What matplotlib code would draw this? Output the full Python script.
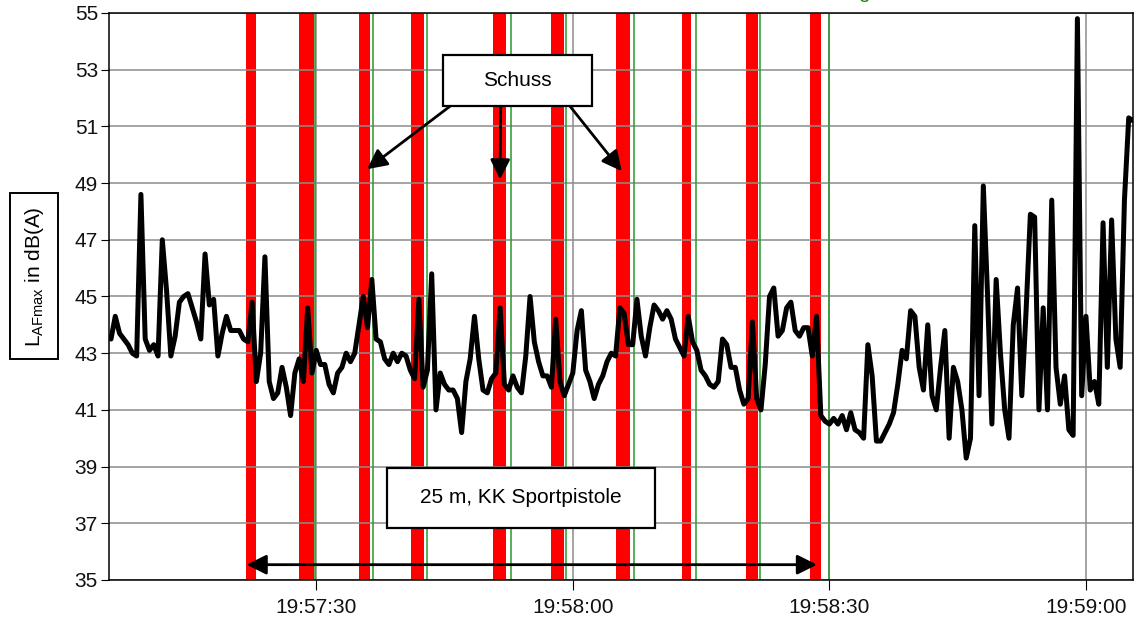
"""
LAFmax time history during 25 m KK Sportpistole shooting, shots marked red.
"""

import numpy as np
import matplotlib
matplotlib.use("Agg")
import matplotlib.pyplot as plt
from matplotlib.patches import Rectangle

plt.rcParams.update({
    "font.family": ["Liberation Sans", "DejaVu Sans"],
    "font.size": 15,
    "mathtext.fontset": "custom",
    "mathtext.rm": "Liberation Sans",
})

# Level samples, seconds after 19:57:00, 0.5 s spacing starting at 6.0 s
t_start = 6.0
t_step = 0.5
level = [
    43.5, 44.3, 43.7, 43.5, 43.3, 43.0, 42.9, 48.6, 43.5, 43.1,
    43.3, 42.9, 47.0, 45.2, 42.9, 43.6, 44.8, 45.0, 45.1, 44.6,
    44.1, 43.5, 46.5, 44.7, 44.9, 42.9, 43.7, 44.3, 43.8, 43.8,
    43.8, 43.5, 43.4, 44.8, 42.0, 43.0, 46.4, 42.0, 41.4, 41.6,
    42.5, 41.8, 40.8, 42.3, 42.8, 42.0, 44.6, 42.3, 43.1, 42.6,
    42.6, 41.9, 41.6, 42.3, 42.5, 43.0, 42.7, 43.0, 44.0, 45.0,
    43.9, 45.6, 43.5, 43.4, 42.8, 42.6, 43.0, 42.7, 43.0, 42.9,
    42.4, 42.1, 44.9, 41.8, 42.4, 45.8, 41.0, 42.3, 41.9, 41.7,
    41.7, 41.4, 40.2, 42.0, 42.8, 44.3, 42.8, 41.7, 41.6, 42.1,
    42.3, 44.6, 41.9, 41.7, 42.2, 41.8, 41.6, 42.9, 45.0, 43.4,
    42.7, 42.2, 42.2, 41.8, 44.2, 42.0, 41.5, 41.9, 42.3, 43.8,
    44.5, 42.4, 42.0, 41.4, 41.9, 42.2, 42.7, 43.0, 42.9, 44.6,
    44.4, 43.3, 43.3, 44.9, 43.6, 42.9, 43.9, 44.7, 44.5, 44.2,
    44.5, 44.2, 43.5, 43.2, 42.9, 44.3, 43.4, 43.1, 42.4, 42.2,
    41.9, 41.8, 42.0, 43.5, 43.3, 42.5, 42.5, 41.7, 41.2, 41.4,
    44.1, 41.4, 41.0, 42.6, 45.0, 45.3, 43.6, 43.8, 44.6, 44.8,
    43.8, 43.6, 43.9, 43.9, 42.9, 44.3, 40.8, 40.6, 40.5, 40.7,
    40.5, 40.8, 40.3, 40.9, 40.3, 40.2, 40.0, 43.3, 42.2, 39.9,
    39.9, 40.2, 40.5, 40.9, 41.9, 43.1, 42.8, 44.5, 44.3, 42.5,
    41.7, 44.0, 41.5, 41.0, 42.5, 43.8, 40.0, 42.5, 42.0, 41.0,
    39.3, 40.0, 47.5, 41.5, 48.9, 45.0, 40.5, 45.6, 43.0, 41.0,
    40.0, 44.0, 45.3, 41.5, 44.5, 47.9, 47.8, 41.0, 44.6, 41.0,
    48.4, 42.5, 41.2, 42.2, 40.3, 40.1, 54.8, 41.5, 44.3, 41.7,
    42.0, 41.2, 47.6, 42.5, 47.7, 43.5, 42.5, 48.4, 51.3, 51.2,
]

# Shot intervals (red) and green markers, seconds after 19:57:00
shot_start = [21.8, 28.0, 35.0, 41.1, 50.7, 57.5, 65.05, 72.8, 80.25, 87.7]
shot_end = [23.0, 29.7, 36.3, 42.6, 52.2, 59.0, 66.7, 73.8, 81.7, 89.0]
marker_times = [29.85, 36.6, 43.0, 52.75, 59.2, 67.2, 74.45, 81.9, 89.9]

x_ticks = [30, 60, 90, 120]
x_labels = ["19:57:30", "19:58:00", "19:58:30", "19:59:00"]
y_ticks = list(range(35, 56, 2))

times = t_start + t_step * np.arange(len(level))

fig = plt.figure(figsize=(11.38, 6.18), dpi=100)
ax = fig.add_axes([0.0958, 0.0615, 0.8998, 0.9175])

for s0, s1 in zip(shot_start, shot_end):
    ax.axvspan(s0, s1, color="#ff0000", lw=0, zorder=1)

ax.set_axisbelow(False)
ax.grid(True, color="#8c8c8c", lw=1.1, zorder=2)
for gl in ax.get_xgridlines() + ax.get_ygridlines():
    gl.set_zorder(2)

for t in marker_times:
    ax.axvline(t, color="#2a9a2a", lw=1.1, zorder=3)

ax.plot(times, level, color="black", lw=3.6, solid_joinstyle="round",
        solid_capstyle="round", zorder=5)

ax.set_xlim(5.77, 125.5)
ax.set_ylim(35, 55)
ax.set_xticks(x_ticks)
ax.set_xticklabels(x_labels)
ax.set_yticks(y_ticks)
ax.tick_params(axis="y", length=6, pad=2, labelcolor="#111111")
ax.tick_params(axis="x", length=7, pad=6, labelcolor="#111111")
for spine in ax.spines.values():
    spine.set_linewidth(1.1)
    spine.set_zorder(6)

# "Schuss" callout
ax.add_patch(Rectangle((44.83, 51.71), 62.25 - 44.83, 53.52 - 51.71,
                       facecolor="white", edgecolor="black", lw=1.6, zorder=7))
ax.text(53.54, 52.61, "Schuss", ha="center", va="center", zorder=8)

arrow_kw = dict(arrowstyle="-|>,head_length=0.6,head_width=0.3",
                color="black", lw=2, shrinkA=0, shrinkB=0, mutation_scale=20)
for tail, head in [((45.64, 51.71), (35.94, 49.49)),
                   ((51.57, 51.71), (51.49, 49.13)),
                   ((59.67, 51.71), (65.72, 49.42))]:
    ax.annotate("", xy=head, xytext=tail, arrowprops=arrow_kw, zorder=8)

# shooting range callout
ax.add_patch(Rectangle((38.28, 36.84), 69.61 - 38.28, 38.96 - 36.84,
                       facecolor="white", edgecolor="black", lw=1.6, zorder=7))
ax.text(53.95, 37.90, "25 m, KK Sportpistole", ha="center", va="center", zorder=8)

ax.annotate("", xy=(88.55, 35.54), xytext=(21.86, 35.54),
            arrowprops=dict(arrowstyle="<|-|>,head_length=0.6,head_width=0.3",
                            color="black", lw=2, shrinkA=0, shrinkB=0,
                            mutation_scale=20), zorder=8)

# y label in a box
fig.text(0.0299, 0.553, r"L$_{\mathregular{AFmax}}$ in dB(A)", rotation=90,
         ha="center", va="center",
         bbox=dict(boxstyle="square,pad=0.6", facecolor="white",
                   edgecolor="black", lw=1.4))

# cut-off green legend text at the very top (only its descender is visible)
fig.text(0.754, 1.003, "g", color="#1a8a1a", ha="left", va="baseline")

fig.savefig("out.png", dpi=100, facecolor="white")
